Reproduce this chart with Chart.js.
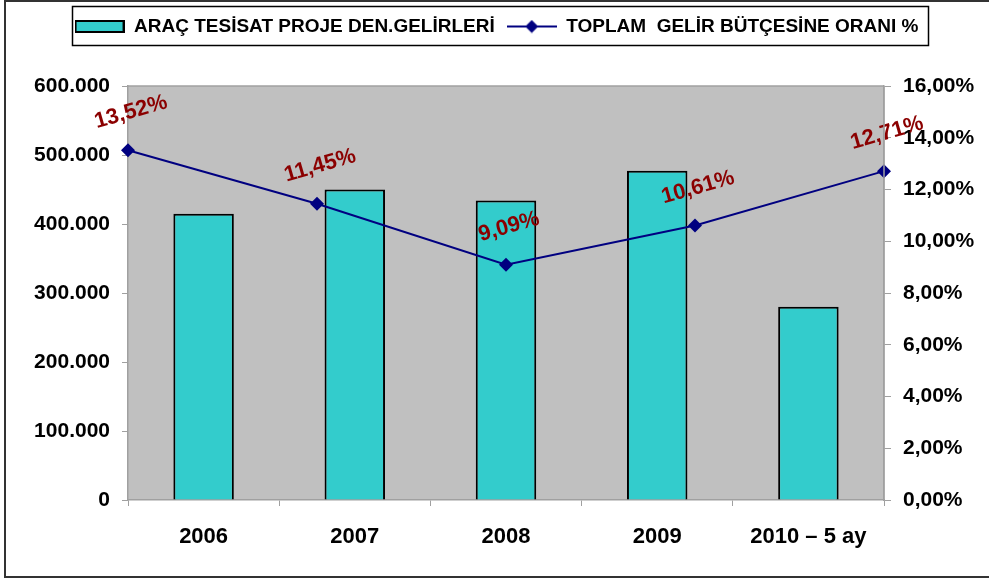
<!DOCTYPE html>
<html>
<head>
<meta charset="utf-8">
<script src="https://cdn.jsdelivr.net/npm/chart.js@4.4.1/dist/chart.umd.min.js"></script>
<style>
  html, body { margin: 0; padding: 0; background: #ffffff; }
  #wrap { position: relative; width: 989px; height: 581px; }
  canvas { display: block; }
</style>
</head>
<body>
<div id="wrap"><canvas id="c" width="989" height="581"></canvas></div>
<script>
// ---- data ----
const categories = ['2006', '2007', '2008', '2009', '2010 – 5 ay'];
const gelirValues = [415000, 450000, 434000, 477000, 280000];
const oranValues = [13.52, 11.45, 9.09, 10.61, 12.71];
const seriesNames = ['ARAÇ TESİSAT PROJE DEN.GELİRLERİ', 'TOPLAM  GELİR BÜTÇESİNE ORANI %'];

const BAR_COLOR = '#33CCCC';
const LINE_COLOR = '#000080';
const LABEL_COLOR = '#8B0000';
const AXIS_GRAY = '#A0A0A0';
const FONT = "'Liberation Sans', Arial, sans-serif";

function fmtThousands(v) {
  return String(Math.round(v)).replace(/\B(?=(\d{3})+(?!\d))/g, '.');
}
function fmtPct(v) {
  return v.toFixed(2).replace('.', ',') + '%';
}

// legend icons
function barIcon() {
  const c = document.createElement('canvas');
  c.width = 50; c.height = 13;
  const g = c.getContext('2d');
  g.fillStyle = BAR_COLOR; g.fillRect(1, 1, 48, 11);
  g.strokeStyle = '#000'; g.lineWidth = 2; g.strokeRect(1, 1, 48, 11);
  return c;
}
function lineIcon() {
  const c = document.createElement('canvas');
  c.width = 50; c.height = 14;
  const g = c.getContext('2d');
  g.strokeStyle = LINE_COLOR; g.lineWidth = 2;
  g.beginPath(); g.moveTo(0, 7); g.lineTo(50, 7); g.stroke();
  g.fillStyle = LINE_COLOR;
  g.beginPath(); g.moveTo(25, 0.5); g.lineTo(31.5, 7); g.lineTo(25, 13.5); g.lineTo(18.5, 7); g.closePath(); g.fill();
  return c;
}
const icons = [barIcon(), lineIcon()];

const decorPlugin = {
  id: 'decor',
  beforeDraw(chart) {
    const { ctx, chartArea: a } = chart;
    ctx.save();
    ctx.fillStyle = '#C0C0C0';
    ctx.fillRect(a.left, a.top, a.right - a.left, a.bottom - a.top);
    ctx.restore();
  },
  afterDraw(chart) {
    const ctx = chart.ctx;
    const a = chart.chartArea;
    ctx.save();
    ctx.strokeStyle = AXIS_GRAY; ctx.lineWidth = 1.5;
    ctx.beginPath(); ctx.moveTo(a.right, a.top); ctx.lineTo(a.right, a.bottom); ctx.stroke();
    ctx.beginPath(); ctx.moveTo(a.left, a.top); ctx.lineTo(a.right, a.top); ctx.stroke();
    // legend frame
    ctx.strokeStyle = '#000'; ctx.lineWidth = 1.5;
    ctx.strokeRect(72.5, 6.5, 856, 39);
    // outer frame
    ctx.strokeStyle = '#333'; ctx.lineWidth = 2;
    ctx.beginPath();
    ctx.moveTo(1000, 1); ctx.lineTo(5, 1); ctx.lineTo(5, 577); ctx.lineTo(1000, 577);
    ctx.stroke();
    ctx.restore();
  },
  afterDatasetsDraw(chart) {
    const ctx = chart.ctx;
    const meta = chart.getDatasetMeta(1);
    const data = chart.data.datasets[1].data;
    ctx.save();
    ctx.fillStyle = LABEL_COLOR;
    ctx.font = 'bold 22px ' + FONT;
    ctx.textAlign = 'center';
    ctx.textBaseline = 'middle';
    meta.data.forEach((p, i) => {
      ctx.save();
      ctx.translate(p.x + 3, p.y - 38);
      ctx.rotate(-16 * Math.PI / 180);
      ctx.fillText(fmtPct(data[i]), 0, 0);
      ctx.restore();
    });
    ctx.restore();
  }
};

new Chart(document.getElementById('c'), {
  type: 'bar',
  data: {
    labels: categories,
    datasets: [
      {
        type: 'bar',
        label: seriesNames[0],
        data: gelirValues,
        backgroundColor: BAR_COLOR,
        borderColor: '#000000',
        borderWidth: 2,
        borderSkipped: 'bottom',
        grouped: false,
        categoryPercentage: 1.0,
        barPercentage: 0.4,
        xAxisID: 'x',
        yAxisID: 'y',
        order: 2
      },
      {
        type: 'line',
        label: seriesNames[1],
        data: oranValues,
        borderColor: LINE_COLOR,
        backgroundColor: LINE_COLOR,
        borderWidth: 2,
        pointStyle: 'rectRot',
        pointRadius: 7,
        pointHoverRadius: 7,
        pointBorderWidth: 0,
        tension: 0,
        xAxisID: 'x2',
        yAxisID: 'y1',
        order: 1
      }
    ]
  },
  options: {
    responsive: false,
    animation: false,
    layout: { padding: { top: 5, left: 4, right: 0, bottom: 0 } },
    plugins: {
      tooltip: { enabled: false },
      legend: {
        position: 'top',
        labels: {
          usePointStyle: true,
          pointStyleWidth: 50,
          boxHeight: 14,
          padding: 12,
          color: '#000',
          font: { family: FONT, size: 19, weight: 'bold' },
          generateLabels(chart) {
            return chart.data.datasets.map((ds, i) => ({
              text: ds.label,
              pointStyle: icons[i],
              fillStyle: ds.backgroundColor,
              strokeStyle: ds.borderColor,
              lineWidth: 0,
              hidden: false,
              datasetIndex: i,
              fontColor: '#000'
            }));
          }
        }
      }
    },
    scales: {
      x: {
        type: 'category',
        offset: true,
        grid: { offset: true, drawOnChartArea: false, drawTicks: true, tickLength: 6, color: AXIS_GRAY },
        border: { display: true, color: AXIS_GRAY, width: 1.5 },
        ticks: { color: '#000', padding: 18, maxRotation: 0, autoSkip: false, font: { family: FONT, size: 22, weight: 'bold' } },
        afterFit(s) { s.height = 81; }
      },
      x2: {
        type: 'category',
        position: 'top',
        offset: false,
        display: true,
        ticks: { display: false },
        grid: { display: false, drawTicks: false },
        border: { display: false },
        afterFit(s) { s.height = 40; }
      },
      y: {
        type: 'linear',
        position: 'left',
        min: 0, max: 600000,
        ticks: { stepSize: 100000, color: '#000', padding: 12, font: { family: FONT, size: 21, weight: 'bold' }, callback: v => fmtThousands(v) },
        grid: { drawOnChartArea: false, drawTicks: true, tickLength: 6, color: AXIS_GRAY },
        border: { display: true, color: AXIS_GRAY, width: 1.5 },
        afterFit(s) { s.width = 124; }
      },
      y1: {
        type: 'linear',
        position: 'right',
        min: 0, max: 16,
        ticks: { stepSize: 2, color: '#000', padding: 12, font: { family: FONT, size: 21, weight: 'bold' }, callback: v => fmtPct(v) },
        grid: { drawOnChartArea: false, drawTicks: true, tickLength: 7, color: AXIS_GRAY },
        border: { display: true, color: AXIS_GRAY, width: 1.5 },
        afterFit(s) { s.width = 105; }
      }
    }
  },
  plugins: [decorPlugin]
});
</script>
</body>
</html>
